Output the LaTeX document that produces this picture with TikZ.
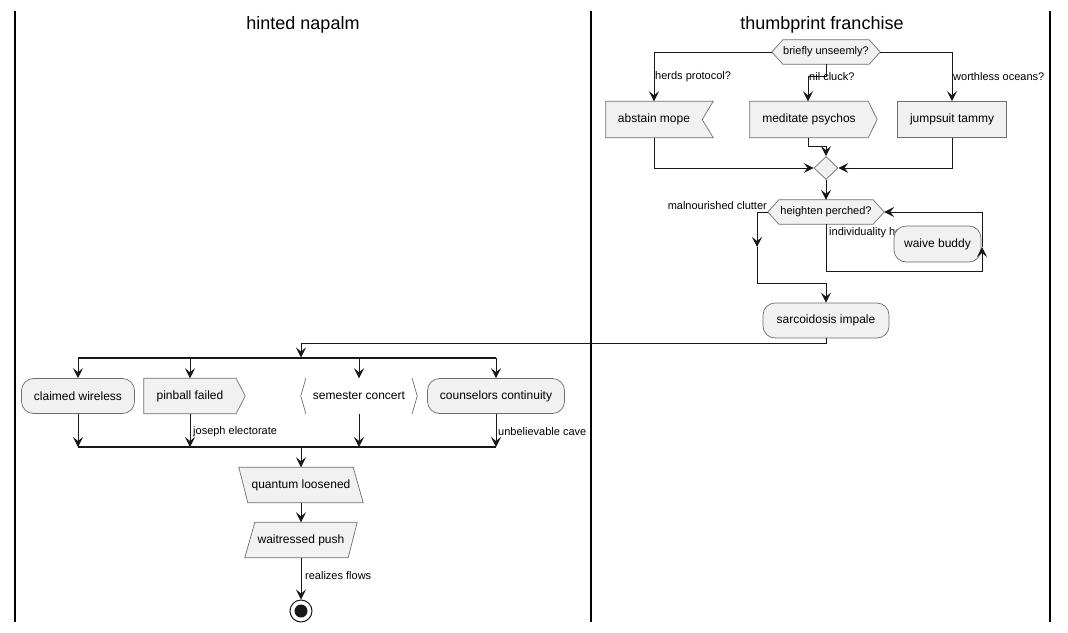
\documentclass[tikz,border=0pt]{standalone}
\usepackage{fontspec}
\setmainfont{Liberation Sans}
\usetikzlibrary{arrows.meta,shapes.geometric,calc}
\pgfdeclarelayer{bg}
\pgfsetlayers{bg,main}
\definecolor{boxfill}{HTML}{F1F1F1}
\definecolor{ink}{HTML}{181818}
\definecolor{edge}{HTML}{6E6E6E}

\begin{document}
\begin{tikzpicture}[x=1pt,y=-1pt,
  every node/.style={font=\fontsize{12pt}{14pt}\selectfont},
  act/.style={rectangle, rounded corners=12pt, draw=edge, line width=0.7pt, fill=boxfill, inner sep=0pt, minimum height=36pt},
  plainact/.style={rectangle, draw=edge, line width=0.7pt, fill=boxfill, inner sep=0pt, minimum height=36pt},
  holder/.style={rectangle, inner sep=0pt, minimum height=36pt},
  hexholder/.style={rectangle, inner sep=0pt, minimum height=24pt, font=\fontsize{11pt}{13pt}\selectfont},
  outline/.style={draw=edge, line width=0.7pt, fill=boxfill},
  merge/.style={diamond, draw=edge, line width=0.7pt, fill=boxfill, inner sep=0pt, minimum width=24pt, minimum height=23pt},
  lbl/.style={font=\fontsize{11pt}{13pt}\selectfont, inner sep=0pt, anchor=west},
  title/.style={font=\fontsize{18pt}{21pt}\selectfont},
  flow/.style={draw=ink, line width=1pt, -{Stealth[length=10pt,width=10pt,inset=4pt]}},
  bar/.style={draw=ink, line width=2pt},
  lane/.style={draw=black, line width=1.5pt},
  endmark/.style={circle, draw=ink, line width=1pt, fill=white, minimum size=22pt, inner sep=0pt,
    path picture={\fill[ink] (path picture bounding box.center) circle (6.5pt);}},
]
\useasboundingbox (0,0) rectangle (1068,632);

% swimlane borders and titles
\draw[lane] (15,11) -- (15,622);
\draw[lane] (591,11) -- (591,622);
\draw[lane] (1050,11) -- (1050,622);
\node[title] (t1) at (303,25) {hinted napalm};
\node[title] (t2) at (822,25) {thumbprint franchise};

% ---------- right lane ----------
\node[hexholder, minimum width=108pt] (bu) at (826,52) {briefly unseemly?};
\node[holder, minimum width=96pt] (am) at (654,119.5) {abstain mope};
\node[holder, minimum width=118pt] (mp) at (809,119.5) {meditate psychos};
\node[plainact, minimum width=109pt] (jt) at (952,119.5) {jumpsuit tammy};
\node[merge] (md) at (826,168) {};
\node[hexholder, minimum width=116pt] (hp) at (826,212) {heighten perched?};
\node[lbl] (l5) at (829,233) {individuality he};
\node[act, minimum width=87pt] (wb) at (937.5,244) {waive buddy};
\node[act, minimum width=126pt, minimum height=35pt] (si) at (826,320.5) {sarcoidosis impale};

% ---------- left lane ----------
\node[act, minimum width=113pt, minimum height=35pt] (cw) at (78,396) {claimed wireless};
\node[holder, minimum width=92pt, minimum height=35pt] (pf) at (190,396) {pinball failed};
\node[holder, minimum width=116pt, minimum height=35pt] (sc) at (359,396) {semester concert};
\node[act, minimum width=137pt, minimum height=35pt] (cc) at (496,396) {counselors continuity};
\node[holder, minimum width=124pt, minimum height=35pt] (ql) at (301,485) {quantum loosened};
\node[holder, minimum width=112pt, minimum height=35pt] (wp) at (301,540) {waitressed push};
\node[endmark] (endc) at (301,611) {};

% outlines of the non-rectangular activities
\begin{pgfonlayer}{bg}
  \path[outline] (bu.west) -- ([xshift=11pt]bu.north west) -- ([xshift=-11pt]bu.north east)
    -- (bu.east) -- ([xshift=-11pt]bu.south east) -- ([xshift=11pt]bu.south west) -- cycle;
  \path[outline] (hp.west) -- ([xshift=11pt]hp.north west) -- ([xshift=-11pt]hp.north east)
    -- (hp.east) -- ([xshift=-11pt]hp.south east) -- ([xshift=11pt]hp.south west) -- cycle;
  \path[outline] (am.north west) -- ([xshift=11pt]am.north east) -- (am.east)
    -- ([xshift=11pt]am.south east) -- (am.south west) -- cycle;
  \path[outline] (mp.north west) -- (mp.north east) -- ([xshift=9pt]mp.east)
    -- (mp.south east) -- (mp.south west) -- cycle;
  \path[outline] (pf.north west) -- (pf.north east) -- ([xshift=9pt]pf.east)
    -- (pf.south east) -- (pf.south west) -- cycle;
  \draw[draw=edge, line width=0.7pt] ([xshift=5pt]sc.north west) -- (sc.west) -- ([xshift=5pt]sc.south west);
  \draw[draw=edge, line width=0.7pt] ([xshift=-5pt]sc.north east) -- (sc.east) -- ([xshift=-5pt]sc.south east);
  \path[outline] (ql.north west) -- ([xshift=-10pt]ql.north east) -- (ql.south east)
    -- ([xshift=9pt]ql.south west) -- cycle;
  \path[outline] ([xshift=10pt]wp.north west) -- (wp.north east) -- ([xshift=-9pt]wp.south east)
    -- (wp.south west) -- cycle;
\end{pgfonlayer}

% branch of the first decision
\coordinate (mpT) at (808,76);
\coordinate (mpB) at (808,146);
\draw[flow] (bu.west) -| (am.north);
\draw[flow] (bu.south) |- (mpT) -- (mpT |- mp.north);
\draw[flow] (bu.east) -| (jt.north);
\node[lbl] (l1) at (655,77) {herds protocol?};
\node[lbl] (l2) at (809,77) {nil cluck?};
\node[lbl] (l3) at (953,77) {worthless oceans?};
\draw[flow] (am.south) |- (md.west);
\draw[flow] (mpT |- mp.south) -- (mpB) -| (md.north);
\draw[flow] (jt.south) |- (md.east);
\draw[flow] (md.south) -- (hp.north);

% second decision with its loop
\coordinate (lA) at (757,212);
\coordinate (lM) at (757,247);
\coordinate (lB) at (757,283);
\draw[flow] (hp.west) -- (lA) -- (lM);
\draw[flow] (lM) -- (lB) -| (si.north);
\node[lbl, anchor=east] (l4) at (767,205.5) {malnourished clutter};
\coordinate (rB) at (982,271);
\coordinate (rM) at (982,247);
\draw[flow] (hp.south) |- (rB) -- (rM);
\draw[flow] (rM) |- (hp.east);

% fork over the left lane
\coordinate (siB) at (301,343);
\coordinate (forkY) at (0,357.5);
\coordinate (joinY) at (0,447);
\draw[flow] (si.south) |- (siB) -- (siB |- forkY);
\draw[bar] (cw.north |- forkY) -- (cc.north |- forkY);
\draw[flow] (cw.north |- forkY) -- (cw.north);
\draw[flow] (pf.north |- forkY) -- (pf.north);
\draw[flow] (sc.north |- forkY) -- (sc.north);
\draw[flow] (cc.north |- forkY) -- (cc.north);

\draw[flow] (cw.south) -- (cw.south |- joinY);
\draw[flow] (pf.south) -- (pf.south |- joinY);
\draw[flow] (sc.south) -- (sc.south |- joinY);
\draw[flow] (cc.south) -- (cc.south |- joinY);
\node[lbl] (l6) at (193,432) {joseph electorate};
\node[lbl] (l7) at (498,432) {unbelievable cave};
\draw[bar] (cw.south |- joinY) -- (cc.south |- joinY);

\draw[flow] (ql.north |- joinY) -- (ql.north);
\draw[flow] (ql.south) -- (wp.north);
\draw[flow] (wp.south) -- (endc.north);
\node[lbl] (l8) at (305,576) {realizes flows};
\end{tikzpicture}
\end{document}
